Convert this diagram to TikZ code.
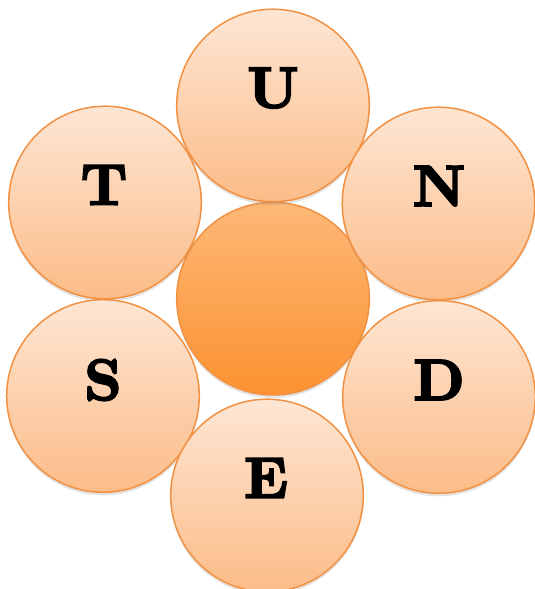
\documentclass[tikz,border=0pt]{standalone}
\usepackage{fontspec}
\newfontfamily\heavy[FakeBold=3.5]{lmroman10-bold.otf}
\usetikzlibrary{shadows}
\definecolor{petaltop}{HTML}{FDE6D4}
\definecolor{petalbot}{HTML}{FCBC88}
\definecolor{coretop}{HTML}{FDB877}
\definecolor{corebot}{HTML}{FC9230}
\definecolor{rimcol}{HTML}{F39143}
\tikzset{
  petal/.style={circle, minimum size=192.6pt, inner sep=0pt, draw=rimcol, line width=1.5pt,
    top color=petaltop, bottom color=petalbot,
    drop shadow={opacity=0.22, shadow xshift=0pt, shadow yshift=-3pt}},
  core/.style={petal, top color=coretop, bottom color=corebot},
  letter/.style={font=\heavy\fontsize{58}{58}\selectfont, text=black, inner sep=0pt}
}
\begin{document}
\begin{tikzpicture}[x=1pt,y=-1pt]
\useasboundingbox (0,0) rectangle (535,589);
\node[core] (c) at (273,298.7) {};
\node[petal] (pu) at (273,105.5) {};
\node[petal] (pn) at (438.5,203.5) {};
\node[petal] (pt) at (105,202.5) {};
\node[petal] (ps) at (103,396) {};
\node[petal] (pd) at (439,397) {};
\node[petal] (pe) at (267,495.5) {};
\node[letter] (lu) at (273,88) {U};
\node[letter] (ln) at (439,186) {N};
\node[letter] (lt) at (104,185) {T};
\node[letter] (ls) at (103,380) {S};
\node[letter] (ld) at (439,380) {D};
\node[letter] (le) at (266,478) {E};
\end{tikzpicture}
\end{document}
